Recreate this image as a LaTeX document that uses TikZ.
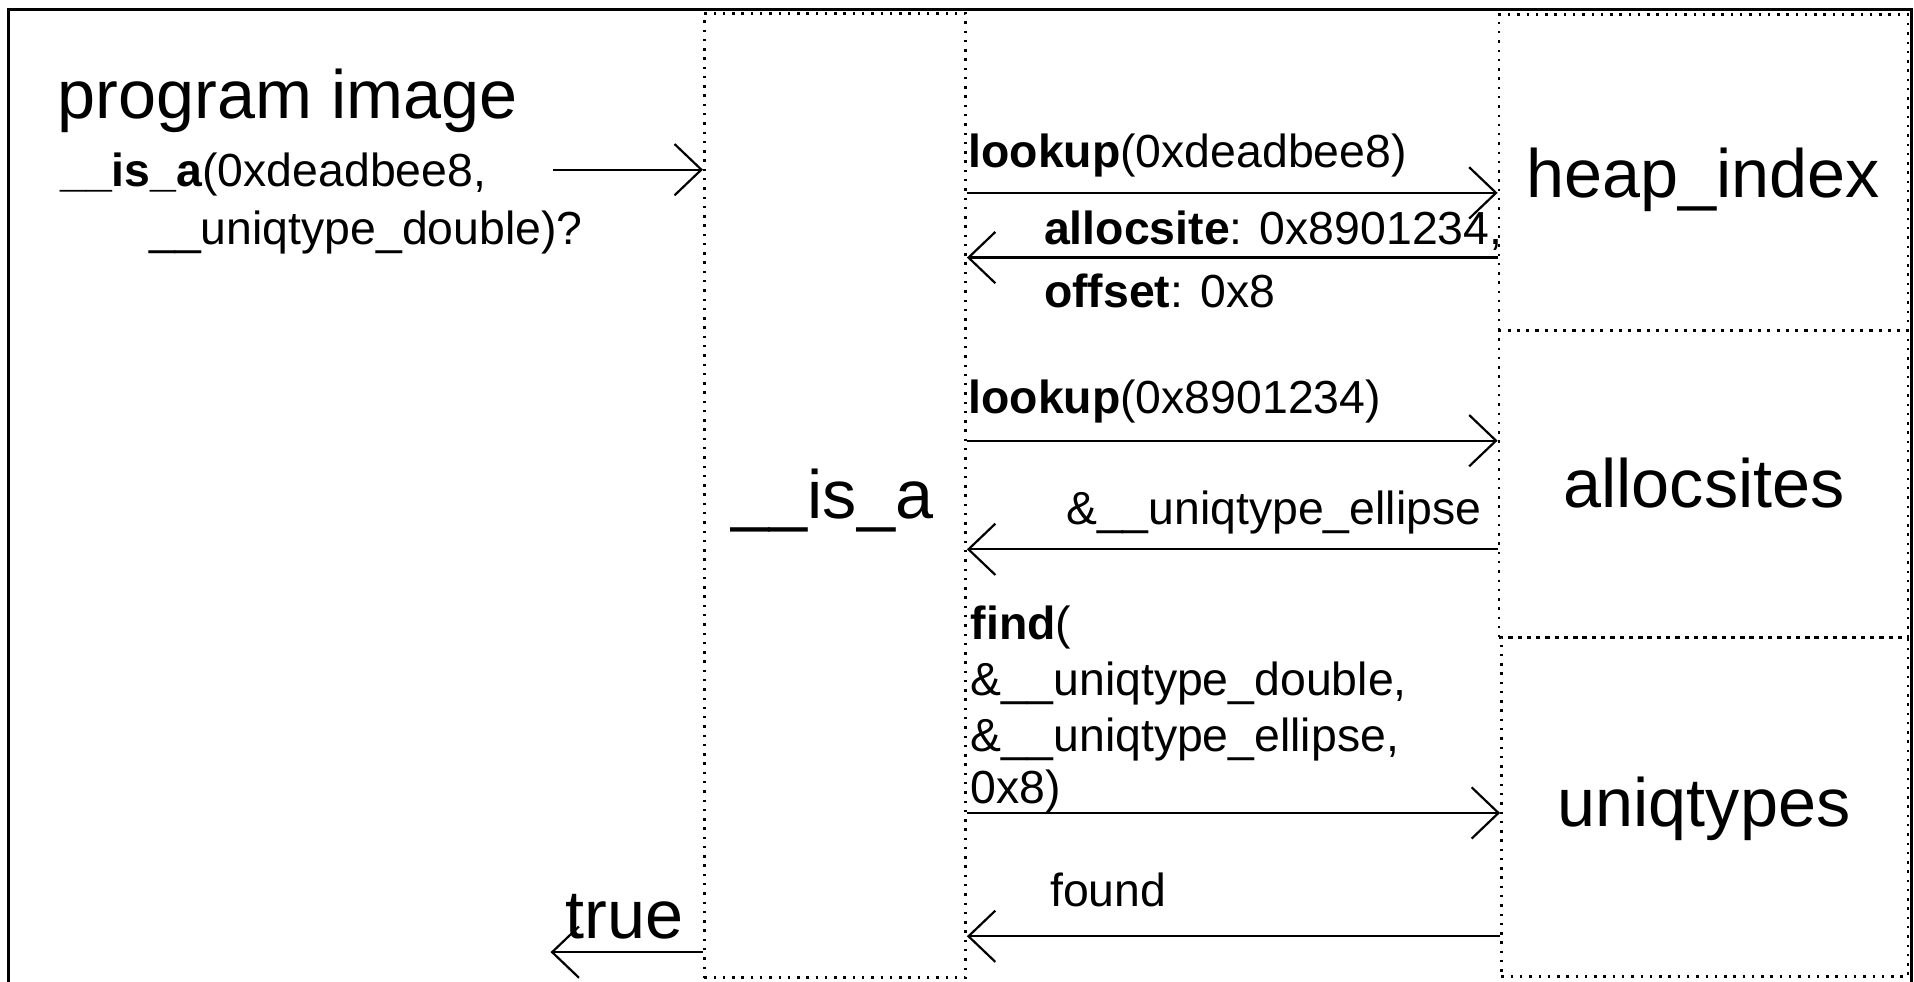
\documentclass[tikz,border=0pt]{standalone}
\usepackage{fontspec}
\setmainfont{Liberation Sans}
\usetikzlibrary{arrows.meta}

\begin{document}
\begin{tikzpicture}[x=0.5pt,y=-0.5pt,
  big/.style={font=\fontsize{28pt}{34pt}\selectfont, inner sep=0pt, anchor=base},
  small/.style={font=\fontsize{19pt}{23pt}\selectfont, inner sep=0pt, anchor=base west},
  lane/.style={draw, dash pattern=on 1pt off 2.8pt, line width=1.1pt,
               inner sep=0pt, fill=none},
  msg/.style={line width=0.9pt,
              -{Straight Barb[length=11pt,width=21pt,line width=0.9pt]}},
  frame/.style={line width=1.2pt}
]
% page and outer frame
\useasboundingbox (0,0) rectangle (1568,804);
\draw[frame] (7,820) -- (7,8) -- (1566,8) -- (1566,820);

% component boxes
\node[lane, minimum width=107pt, minimum height=395pt] (isa) at (684,406) {};
\node[lane, minimum width=167.5pt, minimum height=129.5pt] (heap) at (1395.5,141.5) {};
\node[lane, minimum width=167.5pt, minimum height=125.5pt] (allocs) at (1395.5,396.5) {};
\node[lane, minimum width=166.5pt, minimum height=139pt] (uniq) at (1396.5,661) {};

% component names
\node[big] (isaname)    at (682,425)    {\_\_is\_a};
\node[big] (heapname)   at (1395.5,162) {heap\_index};
\node[big] (allocsname) at (1396,416)   {allocsites};
\node[big] (uniqname)   at (1396,677)   {uniqtypes};

% caller side
\node[big, anchor=base west] (prog) at (47,97) {program image};
\node[small] (call1) at (49,153)  {\textbf{\_\_is\_a}(0xdeadbee8,};
\node[small] (call2) at (122,200) {\_\_uniqtype\_double)?};
\coordinate (callout) at (453,139);
\draw[msg] (callout) -- (isa.west |- callout);

\coordinate (ret) at (451,780);
\draw[msg] (isa.west |- ret) -- (ret);
\node[big, anchor=base west] (result) at (463,769) {true};

% heap_index exchange
\node[small] (q1) at (793,137) {\textbf{lookup}(0xdeadbee8)};
\draw[msg] (isa.east |- 0,158) -- (heap.west |- 0,158);
\node[small] (r1a) at (855,200) {\textbf{allocsite}: 0x8901234,};
\node[small] (r1b) at (855,252) {\textbf{offset}: 0x8};
\draw[msg] (heap.west |- 0,211) -- (isa.east |- 0,211);

% allocsites exchange
\node[small] (q2) at (793,339) {\textbf{lookup}(0x8901234)};
\draw[msg] (isa.east |- 0,361) -- (allocs.west |- 0,361);
\node[small] (r2) at (873,430) {\&\_\_uniqtype\_ellipse};
\draw[msg] (allocs.west |- 0,450) -- (isa.east |- 0,450);

% uniqtypes exchange
\node[small] (q3a) at (795,524) {\textbf{find}(};
\node[small] (q3b) at (795,570) {\&\_\_uniqtype\_double,};
\node[small] (q3c) at (795,616) {\&\_\_uniqtype\_ellipse,};
\node[small] (q3d) at (795,658) {0x8)};
\draw[msg] (isa.east |- 0,666) -- (uniq.west |- 0,666);
\node[small] (r3) at (860,743) {found};
\draw[msg] (uniq.west |- 0,767) -- (isa.east |- 0,767);
\end{tikzpicture}
\end{document}
